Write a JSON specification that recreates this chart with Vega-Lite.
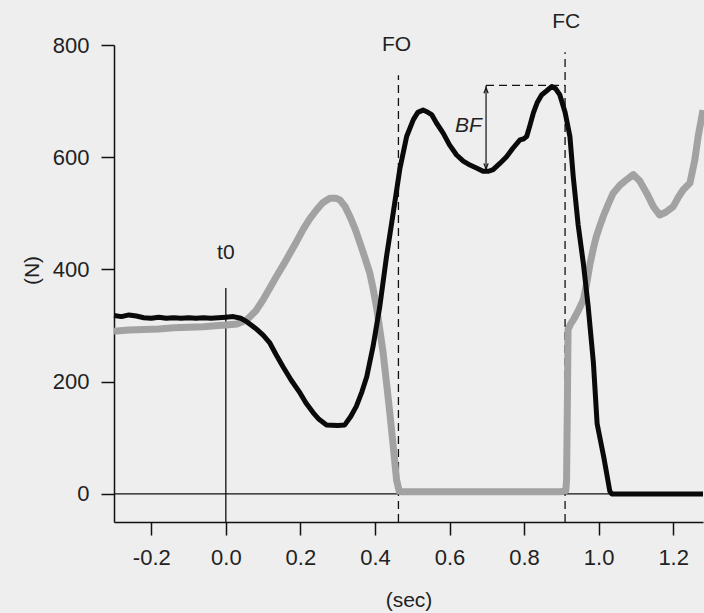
{
  "$schema": "https://vega.github.io/schema/vega-lite/v6.json",
  "width": 589,
  "height": 477,
  "autosize": {"type": "none"},
  "padding": {"left": 114, "top": 45, "right": 1, "bottom": 91},
  "background": "#eeeeee",
  "config": {
    "view": {"stroke": null},
    "font": "Liberation Sans",
    "axis": {
      "domainColor": "#111111",
      "domainWidth": 1.5,
      "tickColor": "#111111",
      "tickWidth": 1.5,
      "tickSize": 13,
      "grid": false,
      "labelFont": "Liberation Sans",
      "labelFontSize": 21,
      "labelColor": "#222222",
      "titleFont": "Liberation Sans",
      "titleFontSize": 21,
      "titleFontWeight": "normal",
      "titleColor": "#222222"
    }
  },
  "datasets": {
    "black": [
      {"t": -0.30, "f": 318}, {"t": -0.28, "f": 316}, {"t": -0.26, "f": 319}, {"t": -0.24, "f": 317},
      {"t": -0.22, "f": 314}, {"t": -0.20, "f": 313}, {"t": -0.18, "f": 315}, {"t": -0.16, "f": 313},
      {"t": -0.14, "f": 314}, {"t": -0.12, "f": 313}, {"t": -0.10, "f": 314}, {"t": -0.08, "f": 313},
      {"t": -0.06, "f": 314}, {"t": -0.04, "f": 313}, {"t": -0.02, "f": 314}, {"t": 0.00, "f": 315},
      {"t": 0.02, "f": 316}, {"t": 0.04, "f": 313}, {"t": 0.056, "f": 307}, {"t": 0.08, "f": 295},
      {"t": 0.10, "f": 283}, {"t": 0.118, "f": 269}, {"t": 0.135, "f": 248}, {"t": 0.153, "f": 227},
      {"t": 0.175, "f": 203}, {"t": 0.199, "f": 180}, {"t": 0.215, "f": 162}, {"t": 0.234, "f": 145},
      {"t": 0.25, "f": 133}, {"t": 0.27, "f": 123}, {"t": 0.30, "f": 122}, {"t": 0.319, "f": 123},
      {"t": 0.335, "f": 138}, {"t": 0.35, "f": 156}, {"t": 0.365, "f": 182}, {"t": 0.378, "f": 209},
      {"t": 0.395, "f": 263}, {"t": 0.413, "f": 334}, {"t": 0.431, "f": 423}, {"t": 0.449, "f": 501},
      {"t": 0.467, "f": 580}, {"t": 0.485, "f": 637}, {"t": 0.503, "f": 667}, {"t": 0.515, "f": 680},
      {"t": 0.529, "f": 684}, {"t": 0.542, "f": 680}, {"t": 0.552, "f": 676}, {"t": 0.565, "f": 661},
      {"t": 0.583, "f": 643}, {"t": 0.60, "f": 622}, {"t": 0.619, "f": 604}, {"t": 0.637, "f": 593},
      {"t": 0.655, "f": 586}, {"t": 0.675, "f": 580}, {"t": 0.69, "f": 575}, {"t": 0.705, "f": 575},
      {"t": 0.717, "f": 578}, {"t": 0.735, "f": 589}, {"t": 0.753, "f": 601}, {"t": 0.77, "f": 616},
      {"t": 0.789, "f": 631}, {"t": 0.80, "f": 633}, {"t": 0.807, "f": 637}, {"t": 0.815, "f": 655},
      {"t": 0.825, "f": 679}, {"t": 0.835, "f": 697}, {"t": 0.847, "f": 711}, {"t": 0.86, "f": 718},
      {"t": 0.874, "f": 726}, {"t": 0.885, "f": 722}, {"t": 0.896, "f": 711}, {"t": 0.91, "f": 680},
      {"t": 0.923, "f": 637}, {"t": 0.932, "f": 565}, {"t": 0.945, "f": 480}, {"t": 0.959, "f": 411},
      {"t": 0.972, "f": 334}, {"t": 0.986, "f": 234}, {"t": 0.996, "f": 125}, {"t": 1.005, "f": 95},
      {"t": 1.014, "f": 65}, {"t": 1.03, "f": 5}, {"t": 1.035, "f": 0}, {"t": 1.28, "f": 0}
    ],
    "gray": [
      {"t": -0.30, "f": 290}, {"t": -0.26, "f": 292}, {"t": -0.22, "f": 293}, {"t": -0.18, "f": 294},
      {"t": -0.14, "f": 296}, {"t": -0.10, "f": 297}, {"t": -0.06, "f": 298}, {"t": -0.02, "f": 300},
      {"t": 0.00, "f": 301}, {"t": 0.03, "f": 303}, {"t": 0.056, "f": 310}, {"t": 0.08, "f": 326},
      {"t": 0.10, "f": 346}, {"t": 0.118, "f": 367}, {"t": 0.136, "f": 388}, {"t": 0.155, "f": 409},
      {"t": 0.172, "f": 429}, {"t": 0.19, "f": 450}, {"t": 0.207, "f": 471}, {"t": 0.225, "f": 490},
      {"t": 0.243, "f": 506}, {"t": 0.26, "f": 519}, {"t": 0.279, "f": 527}, {"t": 0.295, "f": 527},
      {"t": 0.306, "f": 524}, {"t": 0.32, "f": 512}, {"t": 0.333, "f": 494}, {"t": 0.347, "f": 472},
      {"t": 0.36, "f": 447}, {"t": 0.373, "f": 421}, {"t": 0.386, "f": 394}, {"t": 0.395, "f": 366},
      {"t": 0.404, "f": 334}, {"t": 0.413, "f": 293}, {"t": 0.422, "f": 251}, {"t": 0.431, "f": 198},
      {"t": 0.44, "f": 144}, {"t": 0.449, "f": 85}, {"t": 0.458, "f": 25}, {"t": 0.465, "f": 5},
      {"t": 0.47, "f": 4}, {"t": 0.90, "f": 4}, {"t": 0.912, "f": 6}, {"t": 0.914, "f": 25},
      {"t": 0.916, "f": 150}, {"t": 0.918, "f": 293}, {"t": 0.925, "f": 303}, {"t": 0.932, "f": 310},
      {"t": 0.945, "f": 326}, {"t": 0.959, "f": 346}, {"t": 0.968, "f": 375}, {"t": 0.977, "f": 410},
      {"t": 0.986, "f": 438}, {"t": 0.994, "f": 459}, {"t": 1.003, "f": 477}, {"t": 1.012, "f": 494},
      {"t": 1.025, "f": 515}, {"t": 1.039, "f": 536}, {"t": 1.057, "f": 550}, {"t": 1.075, "f": 560},
      {"t": 1.093, "f": 569}, {"t": 1.11, "f": 558}, {"t": 1.129, "f": 536}, {"t": 1.147, "f": 512},
      {"t": 1.164, "f": 497}, {"t": 1.18, "f": 502}, {"t": 1.2, "f": 512}, {"t": 1.215, "f": 530},
      {"t": 1.227, "f": 542}, {"t": 1.245, "f": 554}, {"t": 1.258, "f": 595}, {"t": 1.267, "f": 637},
      {"t": 1.28, "f": 684}
    ],
    "vrules": [
      {"t": 0.0, "f": -50, "f2": 367, "kind": "solid"},
      {"t": 0.463, "f": -50, "f2": 746, "kind": "dash"},
      {"t": 0.91, "f": -50, "f2": 787, "kind": "dash"}
    ],
    "labels": [
      {"t": 0.0, "f": 429, "txt": "t0"},
      {"t": 0.458, "f": 800, "txt": "FO"},
      {"t": 0.913, "f": 841, "txt": "FC"}
    ],
    "italic": [
      {"t": 0.651, "f": 655, "txt": "BF"}
    ]
  },
  "layer": [
    {
      "data": {"values": [{"f": 0}]},
      "mark": {"type": "rule", "color": "#111111", "strokeWidth": 1.3},
      "encoding": {
        "y": {"field": "f", "type": "quantitative"}
      }
    },
    {
      "data": {"name": "vrules"},
      "transform": [{"filter": "datum.kind == 'solid'"}],
      "mark": {"type": "rule", "color": "#111111", "strokeWidth": 1.3},
      "encoding": {
        "x": {"field": "t", "type": "quantitative"},
        "y": {"field": "f", "type": "quantitative"},
        "y2": {"field": "f2"}
      }
    },
    {
      "data": {"name": "vrules"},
      "transform": [{"filter": "datum.kind == 'dash'"}],
      "mark": {"type": "rule", "color": "#111111", "strokeWidth": 1.3, "strokeDash": [8, 5]},
      "encoding": {
        "x": {"field": "t", "type": "quantitative"},
        "y": {"field": "f", "type": "quantitative"},
        "y2": {"field": "f2"}
      }
    },
    {
      "data": {"values": [{"t": 0.698, "t2": 0.91, "f": 728}]},
      "mark": {"type": "rule", "color": "#111111", "strokeWidth": 1.3, "strokeDash": [8, 5]},
      "encoding": {
        "x": {"field": "t", "type": "quantitative"},
        "x2": {"field": "t2"},
        "y": {"field": "f", "type": "quantitative"}
      }
    },
    {
      "data": {"values": [{"t": 0.698, "f": 575, "f2": 728}]},
      "mark": {"type": "rule", "color": "#111111", "strokeWidth": 1.2},
      "encoding": {
        "x": {"field": "t", "type": "quantitative"},
        "y": {"field": "f", "type": "quantitative"},
        "y2": {"field": "f2"}
      }
    },
    {
      "data": {"values": [{"t": 0.698, "f": 724}]},
      "mark": {"type": "point", "shape": "M-0.6,1.6L0,0L0.6,1.6", "filled": false, "stroke": "#111111", "strokeWidth": 1.2, "size": 50, "opacity": 1},
      "encoding": {
        "x": {"field": "t", "type": "quantitative"},
        "y": {"field": "f", "type": "quantitative"}
      }
    },
    {
      "data": {"values": [{"t": 0.698, "f": 579}]},
      "mark": {"type": "point", "shape": "M-0.6,-1.6L0,0L0.6,-1.6", "filled": false, "stroke": "#111111", "strokeWidth": 1.2, "size": 50, "opacity": 1},
      "encoding": {
        "x": {"field": "t", "type": "quantitative"},
        "y": {"field": "f", "type": "quantitative"}
      }
    },
    {
      "data": {"name": "gray"},
      "mark": {"type": "line", "color": "#a2a2a2", "strokeWidth": 7, "strokeJoin": "round", "strokeCap": "butt"},
      "encoding": {
        "x": {"field": "t", "type": "quantitative", "sort": null},
        "y": {"field": "f", "type": "quantitative"}
      }
    },
    {
      "data": {"name": "black"},
      "mark": {"type": "line", "color": "#0a0a0a", "strokeWidth": 5, "strokeJoin": "round", "strokeCap": "butt"},
      "encoding": {
        "x": {
          "field": "t", "type": "quantitative", "sort": null,
          "scale": {"domain": [-0.3, 1.28], "nice": false, "zero": false},
          "axis": {
            "values": [-0.2, 0, 0.2, 0.4, 0.6, 0.8, 1.0, 1.2],
            "labelExpr": "datum.value < 0 ? '-' + format(-datum.value, '.1f') : format(datum.value, '.1f')",
            "title": "(sec)",
            "labelPadding": 12,
            "titleY": 78,
            "titleBaseline": "middle",
            "labelFontSize": 22
          }
        },
        "y": {
          "field": "f", "type": "quantitative",
          "scale": {"domain": [-50, 800], "nice": false, "zero": false},
          "axis": {
            "values": [0, 200, 400, 600, 800],
            "title": "(N)",
            "labelPadding": 12,
            "titleX": -82,
            "titleY": 225,
            "titleAngle": -90,
            "titleAlign": "center",
            "titleBaseline": "middle",
            "labelFontSize": 22
          }
        }
      }
    },
    {
      "data": {"name": "labels"},
      "mark": {"type": "text", "font": "Liberation Sans", "fontSize": 21, "color": "#222222", "align": "center", "baseline": "middle"},
      "encoding": {
        "x": {"field": "t", "type": "quantitative"},
        "y": {"field": "f", "type": "quantitative"},
        "text": {"field": "txt"}
      }
    },
    {
      "data": {"name": "italic"},
      "mark": {"type": "text", "font": "Liberation Sans", "fontSize": 21, "fontStyle": "italic", "color": "#222222", "align": "center", "baseline": "middle"},
      "encoding": {
        "x": {"field": "t", "type": "quantitative"},
        "y": {"field": "f", "type": "quantitative"},
        "text": {"field": "txt"}
      }
    }
  ]
}
